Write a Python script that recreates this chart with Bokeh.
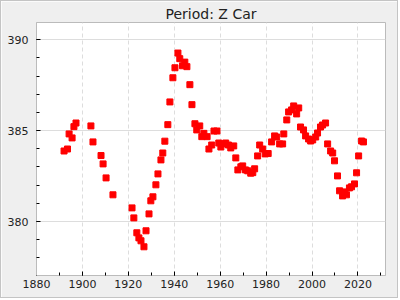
from bokeh.plotting import figure
from bokeh.models import Range1d, SingleIntervalTicker
from bokeh.embed import file_html
from bokeh.resources import INLINE

years = [1892.0, 1893.5, 1894.2, 1895.5, 1896.3, 1897.2, 1903.7, 1904.6, 1908.1, 1909.0,
         1910.3, 1913.3, 1921.6, 1922.4, 1923.7, 1924.6, 1925.5, 1926.8, 1927.7, 1929.0,
         1929.8, 1930.7, 1932.0, 1932.9, 1934.2, 1935.0, 1935.9, 1937.2, 1938.1, 1939.4,
         1940.3, 1941.6, 1942.4, 1943.6, 1944.6, 1945.5, 1946.8, 1947.7, 1949.0, 1949.8,
         1951.1, 1952.0, 1952.9, 1954.3, 1955.1, 1956.3, 1957.3, 1958.6, 1959.4, 1960.3,
         1961.1, 1962.4, 1963.6, 1964.6, 1965.9, 1966.8, 1967.7, 1969.0, 1969.8, 1971.0,
         1972.0, 1973.3, 1974.2, 1975.0, 1976.3, 1977.2, 1978.5, 1979.6, 1980.9, 1982.4,
         1983.7, 1984.6, 1985.9, 1987.2, 1987.7, 1989.0, 1989.8, 1991.1, 1992.0, 1993.3,
         1994.2, 1995.0, 1996.3, 1997.2, 1998.5, 1999.4, 2000.3, 2001.6, 2002.4, 2003.7,
         2004.6, 2005.9, 2006.8, 2008.1, 2009.0, 2009.8, 2011.1, 2012.0, 2013.3, 2014.2,
         2015.0, 2016.3, 2017.2, 2018.5, 2019.4, 2020.3, 2021.6, 2022.4]
period = [383.88, 383.99, 384.82, 384.60, 385.22, 385.42, 385.26, 384.38, 383.63, 383.17,
          382.40, 381.47, 380.75, 380.20, 379.38, 379.10, 378.94, 378.61, 379.49, 380.42,
          381.14, 381.36, 382.02, 382.62, 383.39, 383.77, 384.42, 385.33, 386.58, 387.91,
          388.46, 389.27, 388.96, 388.57, 388.77, 388.52, 387.53, 386.43, 385.38, 385.04,
          385.26, 384.67, 384.85, 384.67, 383.99, 384.21, 384.98, 384.98, 384.32, 384.10,
          384.27, 384.32, 384.21, 384.05, 384.16, 383.50, 382.84, 383.01, 383.06, 382.84,
          382.79, 382.66, 382.69, 382.90, 383.61, 384.21, 383.99, 383.72, 383.74, 384.38,
          384.71, 384.65, 384.27, 384.27, 384.82, 385.59, 386.03, 386.14, 386.36, 385.92,
          386.25, 385.20, 385.04, 384.71, 384.54, 384.43, 384.49, 384.65, 384.87, 385.20,
          385.31, 385.42, 384.27, 383.88, 383.77, 383.34, 382.51, 381.69, 381.41, 381.63,
          381.47, 381.85, 381.91, 382.07, 382.68, 383.61, 384.43, 384.38]

title_text = "Period: Z Car"

p = figure(width=398, height=298, output_backend="svg", toolbar_location=None,
           x_range=Range1d(1880, 2032), y_range=Range1d(377.03, 390.95),
           min_border_left=35, min_border_right=14, min_border_top=21, min_border_bottom=24)
p.styles = {"border": "1px solid #c4c4c4"}
p.background_fill_color = "white"
p.border_fill_color = "#efefef"
p.outline_line_color = "#bbbbbb"

p.title.text = title_text
p.title.align = "center"
p.title.text_font = "DejaVu Sans"
p.title.text_font_size = "14px"
p.title.text_font_style = "normal"
p.title.text_color = "#222222"
p.title.standoff = 2
p.title.offset = 0

p.xaxis.ticker = SingleIntervalTicker(interval=20, num_minor_ticks=2)
p.yaxis.ticker = SingleIntervalTicker(interval=5, num_minor_ticks=5)
for ax in (p.xaxis[0], p.yaxis[0]):
    ax.axis_line_color = "#bbbbbb"
    ax.major_tick_in = 4
    ax.major_tick_out = 0
    ax.minor_tick_in = 3
    ax.minor_tick_out = 0
    ax.major_tick_line_color = "black"
    ax.minor_tick_line_color = "black"
    ax.major_label_text_font = "DejaVu Sans"
    ax.major_label_text_font_size = "11px"
    ax.major_label_text_color = "#222222"
p.xaxis.major_label_standoff = 4
p.yaxis.major_label_standoff = 8

p.xgrid.grid_line_color = "#dddddd"
p.xgrid.grid_line_dash = "4 3"
p.ygrid.grid_line_color = "#dddddd"

p.scatter(years, period, marker="square", size=6, color="red", line_color="red")

open("out.html", "w").write(file_html(p, INLINE))
